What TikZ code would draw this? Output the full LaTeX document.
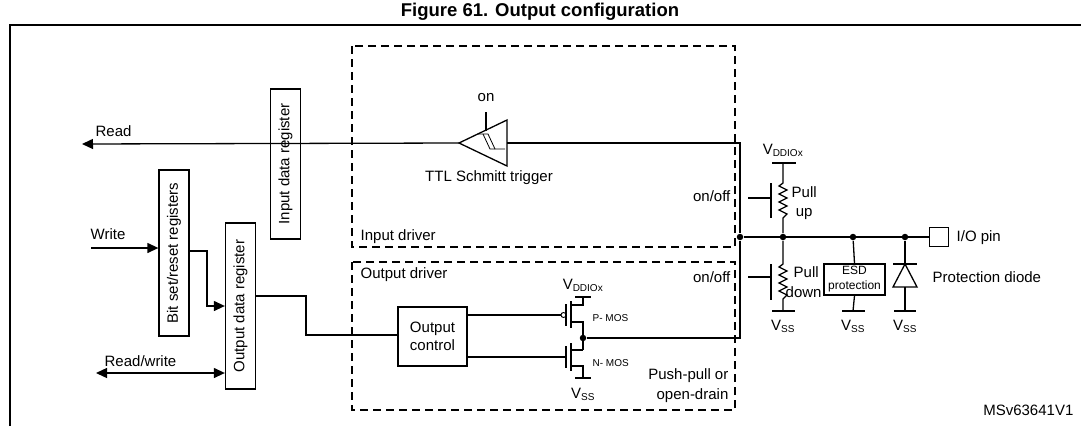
\documentclass[tikz,border=0pt]{standalone}
\usepackage{fontspec}
\setmainfont{Liberation Sans}
\usetikzlibrary{arrows.meta}
\newcommand{\vsub}[1]{V\textsubscript{\fontsize{10}{11}\selectfont #1}}
\begin{document}
\begin{tikzpicture}[x=1pt,y=-1pt,line width=1.3pt,
  lbl/.style={font=\fontsize{15}{16}\selectfont,inner sep=0pt},
  small/.style={font=\fontsize{10}{11}\selectfont,inner sep=0pt},
  reg/.style={draw,rotate=90,minimum height=30pt,inner sep=2pt,font=\fontsize{15}{16}\selectfont},
  dbox/.style={draw,dash pattern=on 8pt off 5pt,line width=1.1pt},
  dot/.style={circle,fill,inner sep=0pt,minimum size=6.5pt},
  arr/.style={-{Triangle[length=11pt,width=10pt]}}]
\useasboundingbox (0,0) rectangle (1081,426);
\node[font=\fontsize{18.5}{20}\selectfont\bfseries] (title) at (540,12) {Figure 61. Output configuration};
\draw (10,426) -- (10,25) -- (1081,25);
% dashed boxes
\draw[dbox] (352,46) rectangle (735,247);
\draw[dbox] (352,262) rectangle (735,410);
\node[lbl,anchor=west] (indrv) at (360,237) {Input driver};
\node[lbl,anchor=west] (outdrv) at (360,275) {Output driver};
% registers
\node[reg,minimum width=150pt] (idr) at (285.5,164) {Input data register};
\node[reg,minimum width=166pt] (bsr) at (174,253) {Bit set/reset registers};
\node[reg,minimum width=166pt] (odr) at (240.5,306) {Output data register};
% Schmitt trigger
\coordinate (sttip) at (459,143);
\draw (sttip) -- (507,120) -- (507,166) -- cycle;
\coordinate (stR) at (507,143);
\draw (486,112) -- (486,131);
\node[lbl] (on) at (486,98) {on};
\draw[line width=0.8pt] (477,134) -- (488,134) -- (495,149) -- (505,149);
\draw[line width=0.8pt] (483,134) -- (490,149) -- (495,149);
\node[lbl] (ttl) at (489,178) {TTL Schmitt trigger};
% Read
\coordinate (readend) at (82,144);
\draw[arr] (sttip) -- (readend);
\node[lbl,anchor=west] (read) at (95,131) {Read};
% write
\coordinate (wstart) at (91,248);
\draw[arr] (wstart) -- (bsr.north |- wstart);
\node[lbl,anchor=west] (write) at (90,234) {Write};
\draw[arr] (189,251) -- (207,251) -- (207,306) -- (odr.north |- 0,306);
\coordinate (rwend) at (96,373);
\draw[{Triangle[length=11pt,width=10pt]}-{Triangle[length=11pt,width=10pt]}] (rwend) -- (odr.north |- rwend);
\node[lbl,anchor=west] (rw) at (104,361) {Read/write};
% output control
\node[draw,minimum width=69pt,minimum height=59pt,align=center,font=\fontsize{15}{18}\selectfont] (oc) at (432.5,336.5) {Output\\control};
\draw (odr.south |- 0,296) -- (306,296) -- (306,335) -- (oc.west |- 0,335);
% PMOS
\draw (oc.east |- 0,315) -- (561,315);
\draw[line width=0.9pt] (563.5,315) circle (2.5pt);
\draw (566,304) -- (566,326);
\draw (571,301) -- (571,328);
\draw (571,305) -- (583,305) -- (583,297);
\draw (575,297) -- (591,297);
\draw (571,322) -- (583,322) -- (583,350);
\node[small,anchor=west] (pmos) at (592,318) {P- MOS};
\node[lbl] (vddp) at (583,285) {\vsub{DDIOx}};
% NMOS
\draw (oc.east |- 0,357) -- (566,357);
\draw (566,346) -- (566,368);
\draw (571,343) -- (571,371);
\draw (571,350) -- (583,350);
\draw (571,366) -- (583,366) -- (583,378);
\draw (575,378) -- (591,378);
\node[small,anchor=west] (nmos) at (592,363) {N- MOS};
\node[lbl] (vssn) at (583,394) {\vsub{SS}};
\node[dot] (mid) at (583,338) {};
\node[lbl,anchor=east,align=right,font=\fontsize{15}{20}\selectfont] (pp) at (729,386) {Push-pull or\\open-drain};
% bus
\node[dot] (j1) at (740,237) {};
\draw (stR) -- (740,143) -- (j1);
\draw (mid) -- (740,338) -- (j1);
\node[draw,minimum size=19pt,inner sep=0pt] (pin) at (939,237) {};
\node[lbl,anchor=west] (piolbl) at (956,238) {I/O pin};
\node[dot] (j2) at (783,237) {};
\node[dot] (j3) at (853,237) {};
\node[dot] (j4) at (905,237) {};
\draw (j1) -- (pin.west);
\node[lbl,anchor=east] (oo1) at (731,196) {on/off};
\node[lbl,anchor=east] (oo2) at (731,277) {on/off};
% pull up
\draw (772,163) -- (796,163);
\draw (783,163) -- (783,183) -- (779,186) -- (787,190) -- (779,194) -- (787,198) -- (779,202) -- (787,206) -- (779,210) -- (787,214) -- (783,218) -- (j2);
\draw (771,183) -- (771,218);
\draw (748,198) -- (771,198);
\node[lbl] (vddu) at (783,150) {\vsub{DDIOx}};
\node[lbl,anchor=west,align=center,font=\fontsize{15}{19}\selectfont] (pu) at (791,203) {Pull\\up};
% pull down
\draw (j2) -- (783,264) -- (779,267) -- (787,271) -- (779,275) -- (787,279) -- (779,283) -- (787,287) -- (779,291) -- (787,295) -- (783,299) -- (783,311);
\draw (772,311) -- (795,311);
\draw (771,264) -- (771,300);
\draw (748,277) -- (771,277);
\node[lbl,anchor=west] (pd1) at (793,272) {Pull};
\node[lbl,anchor=west] (pd2) at (785,292) {down};
\node[lbl] (vss1) at (783,326) {\vsub{SS}};
% ESD
\node[draw,minimum width=61pt,minimum height=31pt,inner sep=0pt,align=center,font=\fontsize{12}{15}\selectfont] (esd) at (854.5,279.5) {ESD\\protection};
\draw (j3) -- (esd.north);
\draw (esd.south) -- (853,311);
\draw (842,311) -- (865,311);
\node[lbl] (vss2) at (853,326) {\vsub{SS}};
% diode
\draw (j4) -- (905,264);
\draw (893,264) -- (917,264);
\draw (905,264) -- (893,287) -- (917,287) -- cycle;
\draw (905,287) -- (905,311);
\draw (894,311) -- (916,311);
\node[lbl] (vss3) at (905,326) {\vsub{SS}};
\node[lbl,anchor=west] (pdl) at (932,277) {Protection diode};
\node[lbl,anchor=east] (ms) at (1074,410) {MSv63641V1};
\end{tikzpicture}
\end{document}
